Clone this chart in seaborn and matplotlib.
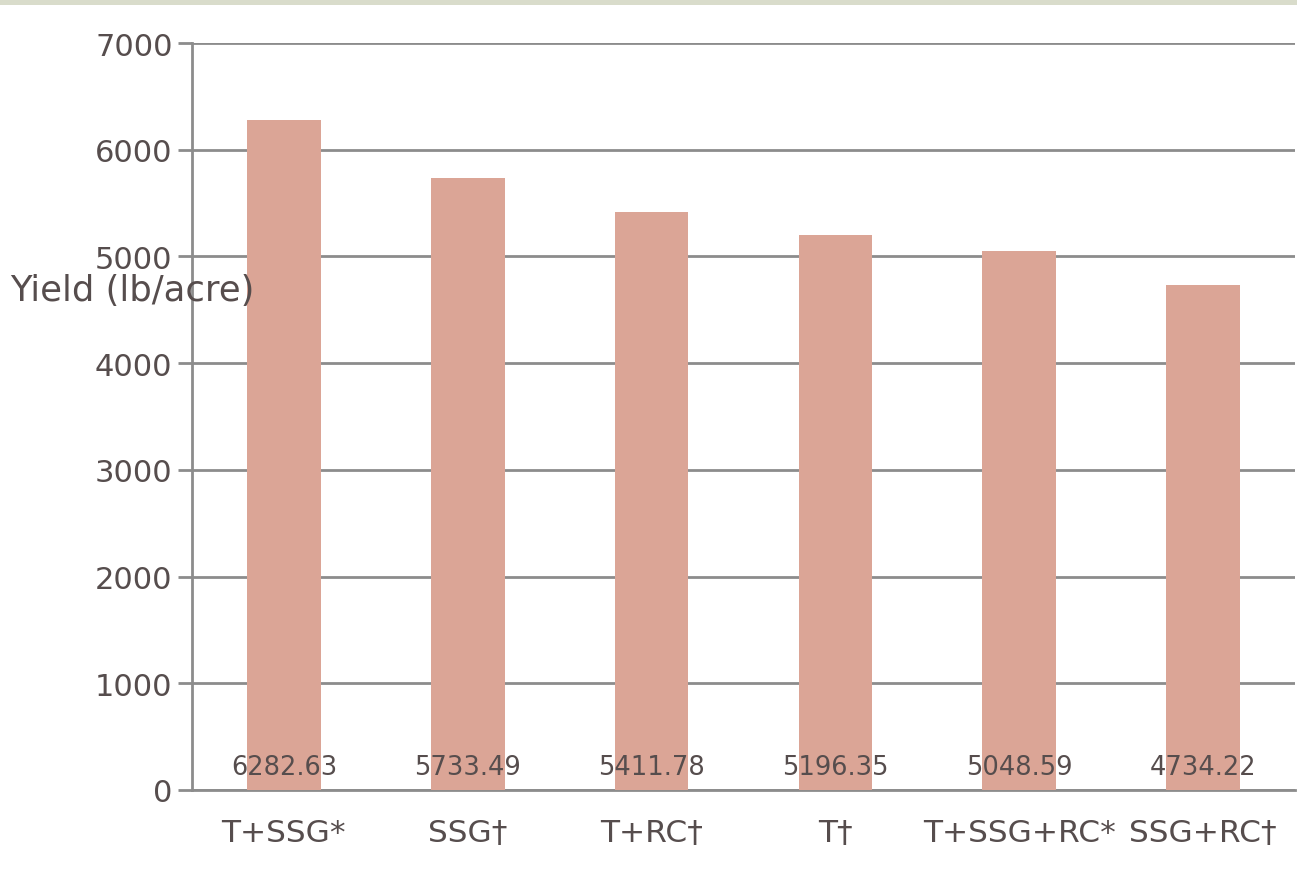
import matplotlib
matplotlib.use("Agg")
import matplotlib.pyplot as plt
from matplotlib.patches import Rectangle
import seaborn as sns
import pandas as pd
import numpy as np

treatments = ["T+SSG*", "SSG\u2020", "T+RC\u2020", "T\u2020", "T+SSG+RC*", "SSG+RC\u2020"]
yields = [6282.63, 5733.49, 5411.78, 5196.35, 5048.59, 4734.22]
y_ticks = [0, 1000, 2000, 3000, 4000, 5000, 6000, 7000]

bar_color = "#dba596"
grid_color = "#8c8c8c"
text_color = "#564d4d"

sns.set_theme(style="white")
plt.rcParams["font.family"] = ["DejaVu Sans"]

df = pd.DataFrame({"treatment": treatments, "yield": yields})

fig = plt.figure(figsize=(12.97, 8.78), dpi=100)
fig.patches.append(Rectangle((0, 1 - 6 / 878), 1, 6 / 878, transform=fig.transFigure,
                             facecolor="#d9dccb", edgecolor="none", zorder=0))
ax = fig.add_axes([192 / 1297, 1 - 791 / 878, (1295 - 192) / 1297, (791 - 44) / 878])

sns.barplot(data=df, x="treatment", y="yield", color=bar_color, width=0.4,
            saturation=1, linewidth=0, edgecolor="none", ax=ax, zorder=3)

ax.set_ylim(0, 7000)
ax.set_xlim(-0.5, len(treatments) - 0.5)
ax.set_yticks(y_ticks)
ax.set_yticklabels([str(v) for v in y_ticks], fontsize=22, color=text_color)
ax.yaxis.grid(True, color=grid_color, linewidth=2)
ax.set_axisbelow(True)

# category boundaries carry the x tick marks
ax.set_xticks(np.arange(-0.5, len(treatments)), minor=True)
ax.tick_params(axis="x", which="minor", length=10, width=2, color=grid_color, direction="out")
ax.tick_params(axis="x", which="major", length=0, pad=20, labelsize=22.5, labelcolor=text_color)
ax.tick_params(axis="y", length=10, width=2, color=grid_color, direction="out", pad=4)
ax.tick_params(left=True, bottom=True)

for side in ["top", "right"]:
    ax.spines[side].set_visible(False)
for side in ["left", "bottom"]:
    ax.spines[side].set_color(grid_color)
    ax.spines[side].set_linewidth(2)

for i, v in enumerate(yields):
    ax.text(i, 215, f"{v:.2f}", ha="center", va="center", fontsize=18.5,
            color=text_color, zorder=5)

ax.set_xlabel("")
ax.set_ylabel("")
fig.text(10 / 1297, 1 - 291 / 878, "Yield (lb/acre)", ha="left", va="center",
         fontsize=25.5, color=text_color)

fig.savefig("out.png", dpi=100)
